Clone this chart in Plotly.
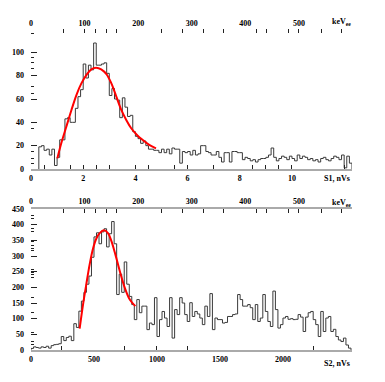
import plotly.graph_objects as go

# ---------------- data ----------------
s1_start = 0.3
s1_bin = 0.1
s1_counts = [
    19, 20, 16, 17, 12, 17, 3, 10, 25, 25,
    43, 44, 40, 40, 52, 62, 68, 90, 78, 89,
    85, 108, 89, 89, 90, 91, 82, 63, 69, 60,
    59, 44, 61, 53, 45, 46, 32, 28, 26, 22,
    24, 20, 17, 17, 16, 16, 14, 17, 14, 17,
    13, 18, 17, 17, 5, 15, 14, 15, 12, 16,
    12, 13, 20, 20, 15, 14, 12, 12, 15, 10,
    6, 14, 14, 6, 15, 15, 14, 14, 8, 10,
    9, 7, 8, 6, 8, 9, 9, 10, 12, 18,
    10, 7, 9, 11, 10, 8, 11, 9, 7, 12,
    9, 11, 10, 8, 9, 7, 8, 6, 9, 10,
    8, 7, 9, 11, 10, 8, 12, 1, 11, 5,
]
s1_fit_x = [1.01, 1.16, 1.35, 1.55, 1.74, 1.93, 2.12, 2.31, 2.50, 2.69, 2.89,
            3.08, 3.27, 3.46, 3.65, 3.84, 4.07, 4.28, 4.53, 4.79]
s1_fit_y = [9.1, 22, 36, 50.6, 63.4, 73.4, 80.5, 85.4, 86.8, 85.4, 81.4,
            73.4, 62, 50.6, 42, 34.9, 29, 24.9, 20.6, 17.7]

s2_start = 0
s2_bin = 20
s2_counts = [
    5, 10, 8, 6, 10, 8, 12, 6, 14, 17,
    18, 20, 43, 30, 40, 44, 30, 84, 72, 124,
    156, 184, 210, 236, 296, 361, 374, 339, 377, 387,
    329, 371, 410, 339, 177, 242, 184, 281, 210, 171,
    145, 97, 161, 119, 140, 140, 65, 86, 81, 167,
    43, 97, 123, 102, 75, 167, 38, 129, 113, 167,
    150, 113, 91, 151, 107, 123, 115, 102, 81, 140,
    107, 180, 65, 102, 97, 97, 86, 88, 107, 107,
    113, 115, 177, 161, 140, 140, 145, 135, 97, 145,
    91, 102, 177, 123, 91, 75, 188, 129, 70, 81,
    102, 107, 98, 100, 97, 98, 113, 105, 59, 105,
    119, 123, 97, 81, 43, 123, 59, 102, 107, 59,
    66, 43, 32, 27, 38, 16, 6,
]
s2_fit_x = [386, 413, 439, 466, 492, 518, 545, 579, 611, 637, 669, 704, 744, 784, 828]
s2_fit_y = [68, 145, 210, 274, 323, 355, 373, 382, 373, 349, 306, 253, 199, 161, 140]

s1_ticks = [0, 2, 4, 6, 8, 10]
s2_ticks = [0, 500, 1000, 1500, 2000]
kev_ticks = [0, 100, 200, 300, 400, 500]
s1_minor = [0.5, 1.5, 2, 2.5, 3, 4, 4.5, 5.5, 6, 7, 8.5, 9, 9.5, 10, 12]
s2_minor = [246, 746, 1000, 1246, 2246]
kev_minor = [60, 100, 121, 140, 160, 243, 282, 321, 360, 420, 440, 481, 500, 543, 580]
y1_ticks = [0, 20, 40, 60, 80, 100]
y1_minor = [5, 9, 15, 35, 65, 71, 86, 91, 96, 116]
y2_ticks = [0, 50, 100, 150, 200, 250, 300, 350, 400, 450]
y2_minor = [16, 27, 56, 119, 167, 232, 240, 248, 258, 317, 325, 333, 345, 378, 387, 421, 430]


def step_xy(start, width, counts):
    edges = [start + width * i for i in range(len(counts) + 1)]
    xs = [edges[0]] + edges
    ys = [0] + list(counts) + [0]
    return xs, ys


FONT = dict(family="Liberation Serif", size=8, color="black", weight="bold")
HCOL = "#3a3a3a"

fig = go.Figure()
x1, y1 = step_xy(s1_start, s1_bin, s1_counts)
fig.add_trace(go.Scatter(x=x1, y=y1, mode="lines", line=dict(color=HCOL, width=1, shape="hv"),
                         xaxis="x", yaxis="y", showlegend=False, hoverinfo="skip"))
fig.add_trace(go.Scatter(x=s1_fit_x, y=s1_fit_y, mode="lines",
                         line=dict(color="red", width=2, shape="spline"),
                         xaxis="x", yaxis="y", showlegend=False))
fig.add_trace(go.Scatter(x=[0], y=[0], mode="lines", opacity=0, xaxis="x2", yaxis="y",
                         showlegend=False, hoverinfo="skip"))
x2, y2 = step_xy(s2_start, s2_bin, s2_counts)
fig.add_trace(go.Scatter(x=x2, y=y2, mode="lines", line=dict(color=HCOL, width=1, shape="hv"),
                         xaxis="x3", yaxis="y2", showlegend=False, hoverinfo="skip"))
fig.add_trace(go.Scatter(x=s2_fit_x, y=s2_fit_y, mode="lines",
                         line=dict(color="red", width=2, shape="spline"),
                         xaxis="x3", yaxis="y2", showlegend=False))
fig.add_trace(go.Scatter(x=[0], y=[0], mode="lines", opacity=0, xaxis="x4", yaxis="y2",
                         showlegend=False, hoverinfo="skip"))

W, H = 385, 382
xdom = [31 / W, 352 / W]
ydom1 = [(H - 169) / H, (H - 29) / H]
ydom2 = [(H - 350) / H, (H - 209) / H]

def minor(vals, ln=4):
    return dict(tickmode="array", tickvals=vals, ticks="inside", ticklen=ln,
                tickcolor="#222", tickwidth=1, showgrid=False)

common_x = dict(showgrid=False, zeroline=False, tickfont=FONT, fixedrange=True, automargin=False)

fig.update_layout(
    width=W, height=H, margin=dict(l=0, r=0, t=0, b=0, autoexpand=False),
    paper_bgcolor="white", plot_bgcolor="white",
    font=FONT,
    xaxis=dict(domain=xdom, anchor="y", range=[0, 12.3], tickmode="array", tickvals=s1_ticks,
               ticks="", showline=True, linecolor="#aaaaaa", linewidth=2,
               minor=minor(s1_minor), **common_x),
    xaxis2=dict(overlaying="x", side="top", anchor="y", range=[0, 599], tickmode="array",
                tickvals=kev_ticks, ticks="", showline=False, minor=minor(kev_minor), **common_x),
    yaxis=dict(domain=ydom1, anchor="x", range=[0, 120], tickmode="array", tickvals=y1_ticks,
               ticks="inside", ticklen=6, tickcolor="#222", showline=False, showgrid=False,
               zeroline=False, tickfont=FONT, minor=minor(y1_minor, 3), ticklabelstandoff=6,
               automargin=False, fixedrange=True),
    xaxis3=dict(domain=xdom, anchor="y2", range=[0, 2548], tickmode="array", tickvals=s2_ticks,
                ticks="", showline=True, linecolor="#aaaaaa", linewidth=2,
                minor=minor(s2_minor), **common_x),
    xaxis4=dict(overlaying="x3", side="top", anchor="y2", range=[0, 599], tickmode="array",
                tickvals=kev_ticks, ticks="", showline=True, linecolor="#aaaaaa", linewidth=2,
                minor=minor(kev_minor), **common_x),
    yaxis2=dict(domain=ydom2, anchor="x3", range=[0, 450], tickmode="array", tickvals=y2_ticks,
                ticks="inside", ticklen=6, tickcolor="#222", showline=False, showgrid=False,
                zeroline=False, tickfont=FONT, minor=minor(y2_minor, 3), ticklabelstandoff=6,
                automargin=False, fixedrange=True),
    annotations=[
        dict(text="S1, nVs", x=352 / W, y=(H - 178) / H, xref="paper", yref="paper",
             xanchor="right", yanchor="middle", showarrow=False, font=FONT),
        dict(text="keV<sub>ee</sub>", x=353 / W, y=(H - 22) / H, xref="paper", yref="paper",
             xanchor="right", yanchor="middle", showarrow=False, font=FONT),
        dict(text="S2, nVs", x=352 / W, y=(H - 363) / H, xref="paper", yref="paper",
             xanchor="right", yanchor="middle", showarrow=False, font=FONT),
        dict(text="keV<sub>ee</sub>", x=353 / W, y=(H - 203) / H, xref="paper", yref="paper",
             xanchor="right", yanchor="middle", showarrow=False, font=FONT),
    ],
)

fig.write_html("out.html", config={"displayModeBar": False},
               post_script="document.body.style.margin='0';document.body.style.padding='0';")
